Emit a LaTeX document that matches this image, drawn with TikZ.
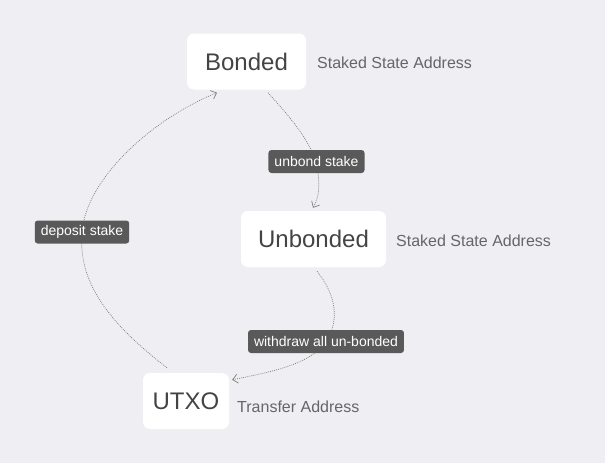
\documentclass[tikz,border=0pt]{standalone}
\usepackage{fontspec}
\setmainfont{Liberation Sans}
\usetikzlibrary{arrows.meta,calc}
\definecolor{bgc}{HTML}{EFEEF3}
\definecolor{maintxt}{HTML}{444444}
\definecolor{sidetxt}{HTML}{666666}
\definecolor{lblfill}{HTML}{595959}
\definecolor{edgec}{HTML}{808080}
\pgfdeclarelayer{bg}
\pgfdeclarelayer{edges}
\pgfsetlayers{bg,edges,main}
\tikzset{
  state/.style={fill=white, rounded corners=7pt, text=maintxt, inner sep=0pt,
    font=\fontsize{24pt}{28pt}\selectfont, minimum height=56pt},
  sidelbl/.style={anchor=west, inner sep=0pt, text=sidetxt,
    font=\fontsize{16pt}{19pt}\selectfont},
  elbl/.style={fill=lblfill, rounded corners=3pt, text=white, inner xsep=6pt, inner ysep=0pt,
    minimum height=23pt, font=\fontsize{14pt}{17pt}\selectfont},
  conn/.style={draw=edgec, line width=0.7pt, dash pattern=on 0.9pt off 1.1pt,
    -{Straight Barb[length=5pt,width=9pt,line width=0.7pt]}},
}
\begin{document}
\begin{tikzpicture}[x=1pt,y=-1pt]
\begin{pgfonlayer}{bg}
\fill[bgc] (0,0) rectangle (605,463);
\end{pgfonlayer}
\useasboundingbox (0,0) rectangle (605,463);

\node[state, minimum width=119pt] (bonded) at (246.5,61.5) {Bonded};
\node[state, minimum width=145pt] (unbonded) at (313.5,239) {Unbonded};
\node[state, minimum width=86pt] (utxo) at (186,401) {UTXO};

\node[sidelbl] (bside) at (317,63) {Staked State Address};
\node[sidelbl] (uside) at (396,241) {Staked State Address};
\node[sidelbl] (tside) at (237,407) {Transfer Address};

\node[elbl] (l1) at (316.5,161.5) {unbond stake};
\node[elbl] (l2) at (326,341.5) {withdraw all un-bonded};
\node[elbl] (l3) at (82,232) {deposit stake};

\begin{pgfonlayer}{edges}
\draw[conn] ($(bonded.south)+(21.5,3)$) .. controls (288,115) and (306,135) .. (l1.center)
  .. controls (320,185) and (320,195) .. ($(unbonded.north)+(-0.5,-3)$);
\draw[conn] ($(unbonded.south)+(3.5,4)$) .. controls (336,295) and (340,320) .. (l2.center)
  .. controls (310,365) and (270,372) .. ($(utxo.north east)+(3,7)$);
\draw[conn] ($(utxo.north)+(-19,-5)$) .. controls (105,320) and (78,280) .. (l3.center)
  .. controls (86,180) and (150,120) .. ($(bonded.south)+(-29.5,3)$);
\end{pgfonlayer}
\end{tikzpicture}
\end{document}
